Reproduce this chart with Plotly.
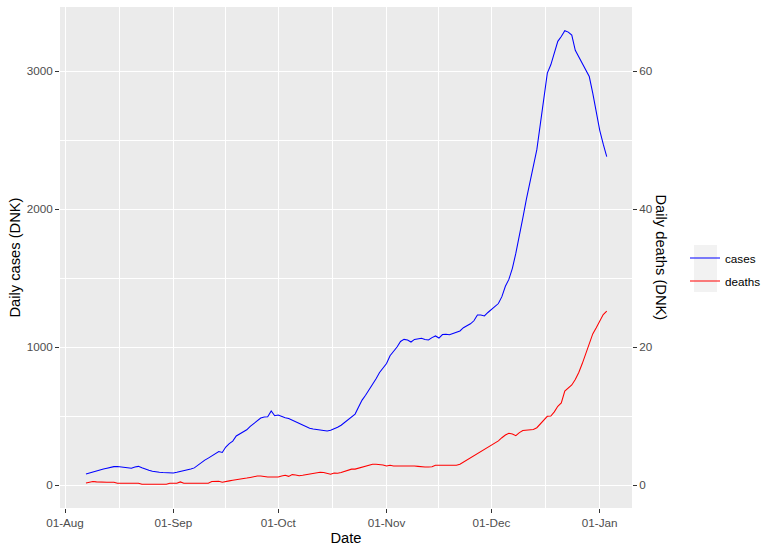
import pandas as pd
import plotly.graph_objects as go

dates = pd.date_range("2020-08-07", "2021-01-03", freq="D")

cases = [
    80, 88, 97, 104, 110, 116, 122, 128, 133, 134,
    132, 130, 127, 122, 130, 135, 125, 114, 107, 100,
    94, 92, 90, 88, 87, 87, 92, 97, 103, 109,
    116, 124, 145, 165, 180, 195, 210, 230, 242, 236,
    275, 300, 318, 355, 368, 385, 400, 425, 445, 470,
    485, 492, 495, 536, 502, 507, 495, 487, 482, 470,
    458, 445, 433, 420, 411, 406, 403, 399, 396, 391,
    396, 405, 418, 433, 452, 470, 492, 514, 565, 615,
    650, 690, 720, 770, 815, 850, 880, 937, 965, 1000,
    1040, 1055, 1050, 1036, 1055, 1060, 1063, 1055, 1051, 1068,
    1080, 1065, 1090, 1092, 1089, 1098, 1108, 1116, 1140, 1155,
    1168, 1190, 1232, 1232, 1225, 1250, 1273, 1295, 1315, 1365,
    1440, 1490, 1570, 1680, 1800, 1935, 2070, 2190, 2330, 2430,
    2615, 2800, 2985, 3045, 3130, 3215, 3250, 3292, 3282, 3260,
    3150, 3100, 3060, 3010, 2960, 2840, 2700, 2570, 2470, 2379,
]

deaths = [
    0.3, 0.4, 0.5, 0.45, 0.4, 0.4, 0.4, 0.4, 0.4, 0.25,
    0.25, 0.25, 0.25, 0.25, 0.25, 0.25, 0.1, 0.1, 0.1, 0.1,
    0.1, 0.1, 0.1, 0.1, 0.25, 0.25, 0.25, 0.45, 0.25, 0.25,
    0.25, 0.25, 0.25, 0.25, 0.25, 0.25, 0.5, 0.55, 0.55, 0.4,
    0.55, 0.6, 0.7, 0.75, 0.8, 0.9, 1.0, 1.1, 1.25, 1.3,
    1.3, 1.2, 1.15, 1.15, 1.15, 1.15, 1.3, 1.4, 1.25, 1.5,
    1.45, 1.35, 1.4, 1.5, 1.6, 1.7, 1.75, 1.85, 1.8, 1.7,
    1.55, 1.75, 1.7, 1.8, 1.95, 2.2, 2.3, 2.3, 2.45, 2.55,
    2.7, 2.8, 3.0, 3.0, 3.0, 2.9, 2.75, 2.85, 2.75, 2.75,
    2.85, 2.85, 2.8, 2.85, 2.75, 2.7, 2.6, 2.6, 2.6, 2.65,
    2.85, 2.85, 2.85, 2.85, 2.85, 2.85, 2.85, 3.0, 3.3, 3.6,
    3.9, 4.2, 4.55, 4.85, 5.15, 5.45, 5.7, 6.0, 6.4, 6.85,
    7.25, 7.5, 7.4, 7.15, 7.6, 7.9, 7.95, 7.95, 8.05, 8.3,
    8.9, 9.5, 9.95, 10.0, 10.6, 11.4, 11.9, 13.6, 14.1, 14.5,
    15.3, 16.3, 17.6, 19.0, 20.5, 21.9, 22.8, 23.8, 24.7, 25.2,
]

x_ticks = ["2020-08-01", "2020-09-01", "2020-10-01", "2020-11-01", "2020-12-01", "2021-01-01"]
x_minor = ["2020-08-16 12:00", "2020-09-16", "2020-10-16 12:00", "2020-11-16", "2020-12-16 12:00"]
y_left_ticks = [0, 1000, 2000, 3000]
y_left_minor = [500, 1500, 2500]
y_right_ticks = [0, 20, 40, 60]
scale = 50  # cases per death on the secondary axis

FONT = "Arial, Liberation Sans, sans-serif"
ylo, yhi = -166.7, 3463.8

fig = go.Figure()
fig.add_trace(go.Scatter(x=dates, y=cases, mode="lines", name="cases",
                         line=dict(color="#0000FF", width=1.05), legendgroup="a"))
fig.add_trace(go.Scatter(x=dates, y=deaths, mode="lines", name="deaths", yaxis="y2",
                         line=dict(color="#FF0000", width=1.05), legendgroup="b"))

tickfont = dict(family=FONT, size=11.7, color="#4D4D4D")
fig.update_layout(
    width=777, height=553,
    margin=dict(l=60, r=145, t=7, b=45),
    paper_bgcolor="white", plot_bgcolor="#EBEBEB",
    font=dict(family=FONT),
    showlegend=True,
    legend=dict(x=(685 - 60) / 572, xanchor="left", y=0.476, yanchor="middle",
                bgcolor="rgba(0,0,0,0)", font=dict(family=FONT, size=11.7, color="black"),
                tracegroupgap=4, itemwidth=30),
    xaxis=dict(
        range=["2020-07-30 13:40", "2021-01-10 05:30"],
        tickvals=x_ticks, tickformat="%d-%b",
        tickfont=tickfont, ticks="outside", ticklen=4, tickwidth=1, tickcolor="#333333",
        showgrid=True, gridcolor="white", gridwidth=1.1,
        minor=dict(tickvals=x_minor, showgrid=True, gridcolor="white", gridwidth=0.55, ticks=""),
        zeroline=False, showline=False,
        title=dict(text="Date", font=dict(family=FONT, size=14.7, color="black"), standoff=4),
    ),
    yaxis=dict(
        range=[ylo, yhi], tickvals=y_left_ticks,
        tickfont=tickfont, ticks="outside", ticklen=4, tickwidth=1, tickcolor="#333333",
        showgrid=True, gridcolor="white", gridwidth=1.1,
        minor=dict(tickvals=y_left_minor, showgrid=True, gridcolor="white", gridwidth=0.55, ticks=""),
        zeroline=False, showline=False,
        title=dict(text="Daily cases (DNK)", font=dict(family=FONT, size=14.7, color="black"), standoff=2),
    ),
    yaxis2=dict(
        range=[ylo / scale, yhi / scale], tickvals=y_right_ticks,
        overlaying="y", side="right", anchor="x",
        tickfont=tickfont, ticks="outside", ticklen=4, tickwidth=1, tickcolor="#333333",
        showgrid=False, zeroline=False, showline=False,
    ),
    annotations=[dict(text="Daily deaths (DNK)", textangle=90, xref="paper", yref="paper",
                      x=(661 - 60) / 572, y=0.5, xanchor="center", yanchor="middle",
                      showarrow=False, font=dict(family=FONT, size=14.7, color="black"))],
    shapes=[dict(type="rect", xref="paper", yref="paper", layer="below",
                 x0=(694 - 60) / 572, x1=(717 - 60) / 572,
                 y0=(508 - 292) / 501, y1=(508 - 245) / 501,
                 fillcolor="#F2F2F2", line=dict(width=0))],
)

fig.write_html("out.html", config={"displayModeBar": False},
               post_script="document.body.style.margin='0px';")
